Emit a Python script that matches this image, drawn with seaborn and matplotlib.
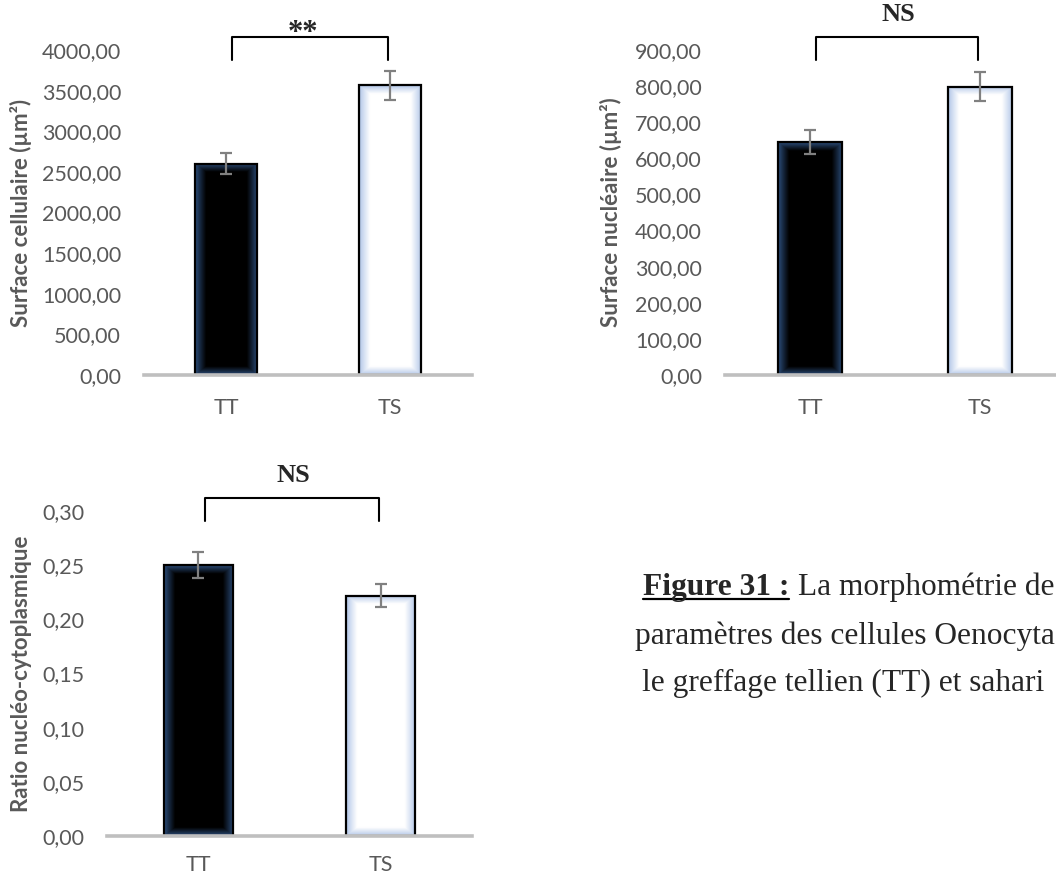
import numpy as np
import pandas as pd
import matplotlib
matplotlib.use("Agg")
import matplotlib.pyplot as plt
from matplotlib.ticker import MultipleLocator, FuncFormatter
from matplotlib.lines import Line2D
import seaborn as sns

# Morphometry of oenocytoid cells: means and standard errors per graft type
groups = ["TT", "TS"]
cell_area = [2600.0, 3565.0]
cell_area_se = [130.0, 180.0]
nuc_area = [645.0, 798.0]
nuc_area_se = [33.0, 40.0]
nc_ratio = [0.250, 0.222]
nc_ratio_se = [0.012, 0.011]

y_labels = ["Surface cellulaire (µm²)", "Surface nucléaire (µm²)", "Ratio nucléo-cytoplasmique"]
sig_labels = ["**", "NS", "NS"]

caption_head = "Figure 31 :"
caption_lines = ["La morphométrie de",
                 "paramètres des cellules Oenocyta",
                 "le greffage tellien (TT) et sahari"]

sns.set_theme(style="white")
plt.rcParams["font.family"] = ["Lato", "DejaVu Sans"]

W, H = 1056, 876
fig = plt.figure(figsize=(W / 100, H / 100), dpi=100)


def axes_px(x0, x1, y_top, y_bot):
    return fig.add_axes([x0 / W, 1 - y_bot / H, (x1 - x0) / W, (y_bot - y_top) / H])


ax1 = axes_px(144, 472, 50, 375)
ax2 = axes_px(725, 1065, 50, 375)
ax3 = axes_px(107, 472, 511, 836)

GRAY_TXT = "#595959"
AXIS_GRAY = "#BFBFBF"
ERR_GRAY = "#808080"

EDGE_COLS = {"TT": np.array([46, 82, 130]) / 255, "TS": np.array([172, 194, 230]) / 255}
CENTER_COLS = {"TT": np.array([0, 0, 0]) / 255, "TS": np.array([255, 255, 255]) / 255}


def comma_fmt(decimals):
    return FuncFormatter(lambda v, _: f"{v:.{decimals}f}".replace(".", ","))


def gradient_fill(ax, patch, key, ramp=11.0):
    x0, y0 = patch.get_x(), patch.get_y()
    w, h = patch.get_width(), patch.get_height()
    (p0x, p0y), (p1x, p1y) = ax.transData.transform([(x0, y0), (x0 + w, y0 + h)])
    nx, ny = max(int(abs(p1x - p0x)), 2), max(int(abs(p1y - p0y)), 2)
    xs = np.arange(nx) + 0.5
    ys = np.arange(ny) + 0.5
    dx = np.minimum(xs, nx - xs)[None, :]
    dy = np.minimum(ys, ny - ys)[:, None]
    t = np.clip(np.minimum(dx / ramp, dy / (ramp * 0.8)), 0, 1) ** 0.9
    img = EDGE_COLS[key][None, None, :] * (1 - t[..., None]) + CENTER_COLS[key][None, None, :] * t[..., None]
    ax.imshow(img, extent=[x0, x0 + w, y0, y0 + h], aspect="auto", origin="lower",
              interpolation="bilinear", zorder=2)
    patch.set_facecolor("none")
    patch.set_zorder(3)


panels = [
    (ax1, cell_area, cell_area_se, 4000, 500, y_labels[0], sig_labels[0], -0.3415, 16.5),
    (ax2, nuc_area, nuc_area_se, 900, 100, y_labels[1], sig_labels[1], -0.303, 16.5),
    (ax3, nc_ratio, nc_ratio_se, 0.30, 0.05, y_labels[2], sig_labels[2], -0.2055, 13.5),
]

for ax, vals, se, ytop, step, ylab, sig, lab_x, xpad in panels:
    df = pd.DataFrame({"groupe": groups, "valeur": vals})
    sns.barplot(data=df, x="groupe", y="valeur", hue="groupe", order=groups,
                palette={"TT": "black", "TS": "white"}, width=0.38,
                edgecolor="black", linewidth=1.6, errorbar=None, legend=False, ax=ax)
    ax.set_xlim(-0.5, 1.5)
    ax.set_ylim(0, ytop)
    ax.errorbar(x=np.arange(len(groups)), y=vals, yerr=se, fmt="none",
                ecolor=ERR_GRAY, elinewidth=1.6, capsize=4.4, capthick=1.6, zorder=5)

    for patch, g in zip(ax.patches, groups):
        gradient_fill(ax, patch, g)
    ax.set_xlim(-0.5, 1.5)
    ax.set_ylim(0, ytop)

    ax.yaxis.set_major_locator(MultipleLocator(step))
    ax.yaxis.set_major_formatter(comma_fmt(2))
    ax.tick_params(axis="both", length=0, labelsize=15.5, labelcolor=GRAY_TXT)
    ax.tick_params(axis="y", pad=16.5)
    ax.tick_params(axis="x", pad=xpad)
    for s in ("top", "right", "left"):
        ax.spines[s].set_visible(False)
    ax.spines["bottom"].set_color(AXIS_GRAY)
    ax.spines["bottom"].set_linewidth(2.6)
    ax.spines["bottom"].set_zorder(4)

    ax.set_xlabel("")
    ax.set_ylabel(ylab, fontsize=16, fontweight="bold", color=GRAY_TXT)
    ax.yaxis.set_label_coords(lab_x, 0.5)

    # significance bracket between the two groups
    yb, yt = ytop * 0.969, ytop * 1.039
    ax.plot([0.035, 0.035, 0.99, 0.99], [yb, yt, yt, yb], color="black", lw=1.5,
            clip_on=False, zorder=6)
    if sig == "**":
        ax.text(0.47, ytop * 1.028, sig, ha="center", va="baseline", fontsize=22,
                fontweight="bold", family="Liberation Serif", clip_on=False)
    else:
        ax.text(0.52, ytop * 1.09, sig, ha="center", va="baseline", fontsize=19,
                fontweight="bold", family="Liberation Serif", clip_on=False)

# caption block
cap_size = 22.6
head = fig.text(643 / W, 1 - 595 / H, caption_head, fontsize=cap_size, fontweight="bold",
                family="Liberation Serif", va="baseline", ha="left")
renderer = fig.canvas.get_renderer()
bb = head.get_window_extent(renderer)
fig.add_artist(Line2D([bb.x0 / W, bb.x1 / W], [1 - 599 / H, 1 - 599 / H],
                      transform=fig.transFigure, color="black", lw=1.6))
fig.text((bb.x1 + 9) / W, 1 - 595 / H, caption_lines[0], fontsize=cap_size,
         family="Liberation Serif", va="baseline", ha="left")
fig.text(635 / W, 1 - 644 / H, caption_lines[1], fontsize=cap_size,
         family="Liberation Serif", va="baseline", ha="left")
fig.text(642 / W, 1 - 691 / H, caption_lines[2], fontsize=cap_size,
         family="Liberation Serif", va="baseline", ha="left")

fig.savefig("out.png", dpi=100, facecolor="white")
